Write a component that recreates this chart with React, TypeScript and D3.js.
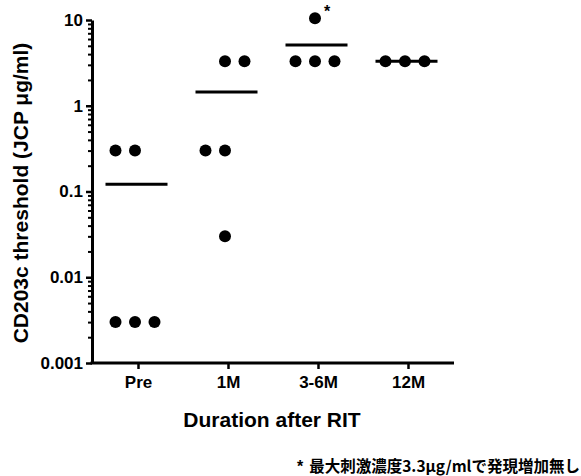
import React, { useRef, useEffect } from "react";
import * as d3 from "d3";

// durations on the x axis
const groups = ["Pre", "1M", "3-6M", "12M"];

// CD203c threshold values per subject, one array per duration
const preValues = [0.3, 0.3, 0.003, 0.003, 0.003];
const m1Values = [3.3, 3.3, 0.3, 0.3, 0.03];
const m36Values = [10.5, 3.3, 3.3, 3.3];
const m12Values = [3.3, 3.3, 3.3];

// lane of each dot inside its column (scatter spread)
const preLanes = [-1, 0, -1, 0, 1];
const m1Lanes = [0, 1, -1, 0, 0];
const m36Lanes = [0, -1, 0, 1];
const m12Lanes = [-1, 0, 1];

// which points carry the "*" mark
const m36Starred = [true, false, false, false];

const yTicks = [0.001, 0.01, 0.1, 1, 10];
const yTickLabels = ["0.001", "0.01", "0.1", "1", "10"];

const footnote = "最大刺激濃度3.3\u03bcg/mlで発現増加無し";

export default function App() {
  const svgRef = useRef<SVGSVGElement>(null);

  useEffect(() => {
    const svg = d3.select(svgRef.current);
    svg.selectAll("*").remove();

    const width = 581;
    const height = 476;
    const margin = { top: 20, left: 92, bottom: 363, right: 454 };
    const font = "'Liberation Sans', Arial, sans-serif";

    svg.attr("viewBox", `0 0 ${width} ${height}`);

    const x = d3.scalePoint().domain(groups).range([138, 408]);
    const lane = d3.scaleLinear().domain([-1, 1]).range([-21, 18]);
    const y = d3.scaleLog().domain([0.001, 10]).range([margin.bottom, margin.top]);

    const series = [
      { g: "Pre", values: preValues, lanes: preLanes, stars: preValues.map(() => false) },
      { g: "1M", values: m1Values, lanes: m1Lanes, stars: m1Values.map(() => false) },
      { g: "3-6M", values: m36Values, lanes: m36Lanes, stars: m36Starred },
      { g: "12M", values: m12Values, lanes: m12Lanes, stars: m12Values.map(() => false) },
    ];

    // minor log ticks
    const minor: number[] = [];
    yTicks.slice(0, -1).forEach((t) => {
      for (let k = 2; k <= 9; k++) minor.push(t * k);
    });

    svg
      .append("g")
      .attr("transform", `translate(${margin.left},0)`)
      .call(d3.axisLeft(y).tickValues(minor).tickSize(4).tickFormat(() => ""))
      .call((g) => g.select(".domain").remove())
      .call((g) => g.selectAll("line").attr("stroke-width", 2));

    // y axis
    svg
      .append("g")
      .attr("transform", `translate(${margin.left},0)`)
      .call(
        d3
          .axisLeft(y)
          .tickValues(yTicks)
          .tickSize(6)
          .tickSizeOuter(0)
          .tickPadding(3)
          .tickFormat((d, i) => yTickLabels[i])
      )
      .call((g) => g.select(".domain").attr("stroke-width", 3))
      .call((g) => g.selectAll("line").attr("stroke-width", 2.5))
      .call((g) =>
        g
          .selectAll("text")
          .attr("font-family", font)
          .attr("font-weight", "bold")
          .attr("font-size", 17)
          .attr("fill", "#000")
      );

    // x axis
    svg
      .append("line")
      .attr("x1", margin.left - 1.5)
      .attr("x2", margin.right)
      .attr("y1", margin.bottom)
      .attr("y2", margin.bottom)
      .attr("stroke", "#000")
      .attr("stroke-width", 3);

    const xAxis = svg.append("g").attr("transform", `translate(0,${margin.bottom})`);
    xAxis
      .call(d3.axisBottom(x).tickSize(6).tickPadding(7))
      .call((g) => g.select(".domain").remove())
      .call((g) => g.selectAll("line").attr("stroke-width", 2.5))
      .call((g) =>
        g
          .selectAll("text")
          .attr("font-family", font)
          .attr("font-weight", "bold")
          .attr("font-size", 17)
          .attr("fill", "#000")
      );

    const plot = svg.append("g");

    series.forEach((s) => {
      const cx = (x(s.g) as number) - 1.5;
      const mean = d3.mean(s.values) as number;

      plot
        .append("line")
        .attr("x1", cx - 31)
        .attr("x2", cx + 31)
        .attr("y1", y(mean))
        .attr("y2", y(mean))
        .attr("stroke", "#000")
        .attr("stroke-width", 3);

      const pts = s.values.map((v, i) => ({ v, l: s.lanes[i], star: s.stars[i] }));

      plot
        .selectAll(null)
        .data(pts)
        .join("circle")
        .attr("cx", (d) => cx + lane(d.l))
        .attr("cy", (d) => y(d.v))
        .attr("r", 6)
        .attr("fill", "#000");

      plot
        .selectAll(null)
        .data(pts.filter((d) => d.star))
        .join("text")
        .attr("x", (d) => cx + lane(d.l) + 12)
        .attr("y", (d) => y(d.v) - 1)
        .attr("text-anchor", "middle")
        .attr("font-family", font)
        .attr("font-weight", "bold")
        .attr("font-size", 16)
        .text("*");
    });

    // titles
    svg
      .append("text")
      .attr("transform", `translate(28,193) rotate(-90)`)
      .attr("text-anchor", "middle")
      .attr("font-family", font)
      .attr("font-weight", "bold")
      .attr("font-size", 21)
      .text("CD203c threshold (JCP \u03bcg/ml)");

    svg
      .append("text")
      .attr("x", 272)
      .attr("y", 427)
      .attr("text-anchor", "middle")
      .attr("font-family", font)
      .attr("font-weight", "bold")
      .attr("font-size", 21)
      .text("Duration after RIT");

    // footnote
    svg
      .append("text")
      .attr("x", 300)
      .attr("y", 472)
      .attr("text-anchor", "middle")
      .attr("font-family", font)
      .attr("font-weight", "bold")
      .attr("font-size", 16)
      .text("*");

    svg
      .append("text")
      .attr("x", 580)
      .attr("y", 472)
      .attr("text-anchor", "end")
      .attr("font-family", "'Noto Sans CJK JP', sans-serif")
      .attr("font-weight", "bold")
      .attr("font-size", 15.5)
      .text(footnote);
  }, []);

  return (
    <svg
      ref={svgRef}
      width={581}
      height={476}
      style={{ position: "absolute", left: 0, top: 0, background: "#fff" }}
    />
  );
}
